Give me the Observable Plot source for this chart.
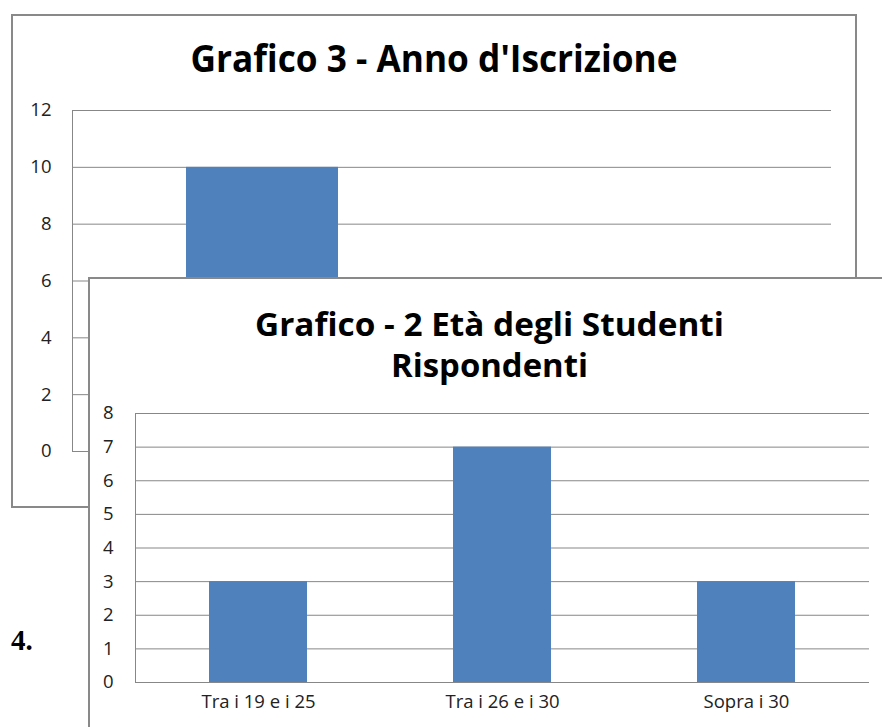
<!DOCTYPE html>
<html>
<head>
<meta charset="utf-8">
<script src="https://cdn.jsdelivr.net/npm/d3@7"></script>
<script src="https://cdn.jsdelivr.net/npm/@observablehq/plot@0.6"></script>
<style>
html,body{margin:0;padding:0;background:#fff;}
#page{position:relative;width:882px;height:727px;overflow:hidden;background:#fff;font-family:"Open Sans",sans-serif;}
.box{position:absolute;box-sizing:border-box;border:2px solid #898989;background:#fff;}
#backBox{left:11px;top:14px;width:846px;height:494px;}
#frontBox{left:88px;top:277px;width:810px;height:470px;}
.chart{position:absolute;}
#num{position:absolute;left:11px;top:626px;font-family:"Liberation Serif","Times New Roman",serif;font-weight:bold;font-size:29px;line-height:29px;color:#000;}
</style>
</head>
<body>
<div id="page">
  <div id="backBox" class="box"></div>
  <div id="backChart" class="chart" style="left:11px;top:14px"></div>
  <div id="frontBox" class="box"></div>
  <div id="frontChart" class="chart" style="left:88px;top:277px"></div>
  <div id="num">4.</div>
</div>
<script>
// ---- Data ----
const backTitle = "Grafico 3 - Anno d'Iscrizione";
const yearCategories = ["Categoria 1", "Categoria 2"]; // labels hidden behind the front chart
const yearValues = [10, 3];
const backTicks = [0, 2, 4, 6, 8, 10, 12];

const frontTitleLines = ["Grafico - 2 Età degli Studenti", "Rispondenti"];
const ageCategories = ["Tra i 19 e i 25", "Tra i 26 e i 30", "Sopra i 30"];
const ageValues = [3, 7, 3];
const frontTicks = [0, 1, 2, 3, 4, 5, 6, 7, 8];

const yearData = yearCategories.map((c, i) => ({cat: c, val: yearValues[i]}));
const ageData = ageCategories.map((c, i) => ({cat: c, val: ageValues[i]}));

const GRID = "#878787";
const BAR = "#4f81bd";
const FONT = "'Open Sans', sans-serif";

function addTitle(svg, lines, cx, baselines, size, lengths) {
  const s = d3.select(svg);
  lines.forEach((t, i) => {
    s.append("text")
      .attr("x", cx).attr("y", baselines[i])
      .attr("text-anchor", "middle")
      .attr("font-family", FONT)
      .attr("font-weight", "bold")
      .attr("font-size", size)
      .attr("fill", "#000")
      .attr("textLength", lengths[i])
      .attr("lengthAdjust", "spacingAndGlyphs")
      .text(t);
  });
}

// ---- Back chart ----
const back = Plot.plot({
  width: 846, height: 494,
  marginLeft: 61, marginRight: 26, marginTop: 96, marginBottom: 57,
  style: {background: "transparent", fontFamily: FONT, fontSize: "18.5px", color: "#222"},
  x: {domain: yearCategories, paddingInner: 0.6, paddingOuter: 0.3, axis: null},
  y: {domain: [0, 12]},
  marks: [
    Plot.gridY(backTicks, {stroke: GRID, strokeOpacity: 1}),
    Plot.frame({anchor: "left", stroke: GRID, strokeOpacity: 1}),
    Plot.barY(yearData, {x: "cat", y: "val", fill: BAR}),
    Plot.axisY(backTicks, {tickSize: 0, tickPadding: 21, label: null, fill: "#222"})
  ]
});
addTitle(back, [backTitle], 423, [58], 37, [487]);
document.getElementById("backChart").appendChild(back);

// ---- Front chart ----
const front = Plot.plot({
  width: 794, height: 450,
  marginLeft: 47, marginRight: 13, marginTop: 136, marginBottom: 45,
  style: {background: "transparent", fontFamily: FONT, fontSize: "18.5px", color: "#222"},
  x: {domain: ageCategories, paddingInner: 0.6, paddingOuter: 0.3},
  y: {domain: [0, 8]},
  marks: [
    Plot.gridY(frontTicks, {stroke: GRID, strokeOpacity: 1}),
    Plot.frame({anchor: "left", stroke: GRID, strokeOpacity: 1}),
    Plot.barY(ageData, {x: "cat", y: "val", fill: BAR}),
    Plot.axisY(frontTicks, {tickSize: 0, tickPadding: 22, label: null, fill: "#222"}),
    Plot.axisX({tickSize: 0, tickPadding: 12, label: null, fill: "#222"})
  ]
});
addTitle(front, frontTitleLines, 401.5, [59, 100], 32, [469, 197]);
document.getElementById("frontChart").appendChild(front);
</script>
</body>
</html>
